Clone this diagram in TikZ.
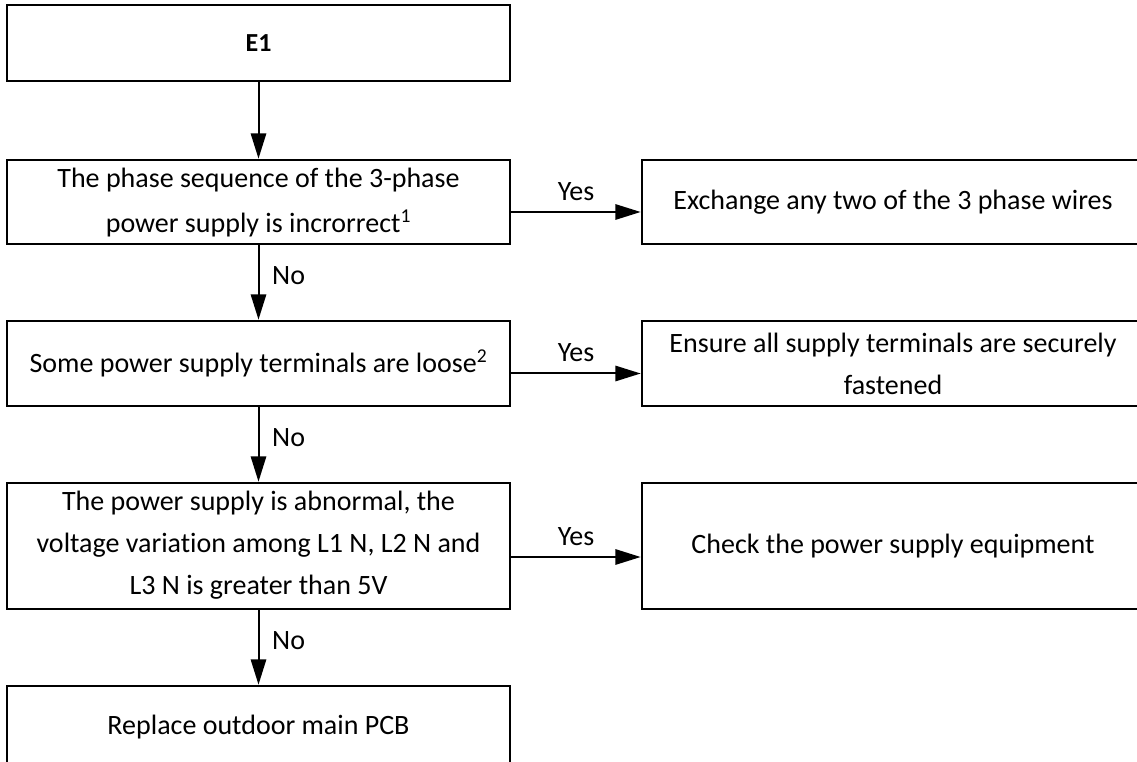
\documentclass[tikz,border=0pt]{standalone}
\usepackage{fontspec}
\setmainfont{Carlito}[Ligatures={NoCommon,NoRequired,NoContextual}]
\usetikzlibrary{arrows.meta}
\tikzset{
  box/.style={draw=black, line width=2pt, rectangle, inner sep=0pt, align=center,
    font=\fontsize{21}{31.5}\selectfont},
  flow/.style={draw=black, line width=1.5pt, -{Triangle[length=19pt,width=11.5pt]}},
  yeslbl/.style={midway, above, inner sep=0pt, yshift=8pt, font=\fontsize{21}{24}\selectfont},
  nolbl/.style={midway, right, inner sep=0pt, xshift=9.5pt, yshift=5.5pt, font=\fontsize{21}{24}\selectfont}
}
\begin{document}
\begin{tikzpicture}[x=0.75pt, y=-0.75pt]
\clip (0,0) rectangle (1137,762);
\fill[white] (0,0) rectangle (1137,762);
\node[box, minimum width=377.25pt, minimum height=57pt, font=\fontsize{19.5}{23}\selectfont\bfseries] (e1) at (258.5,43) {E1};
\node[box, minimum width=377.25pt, minimum height=63pt] (q1) at (258.5,202)
  {\raisebox{-5pt}[0pt][0pt]{\begin{tabular}{@{}c@{}}The phase sequence of the 3-phase\\[2.5pt]power supply is incrorrect\textsuperscript{1}\end{tabular}}};
\node[box, minimum width=376.5pt, minimum height=63pt] (a1) at (893,202) {Exchange any two of the 3 phase wires};
\node[box, minimum width=377.25pt, minimum height=63.75pt] (q2) at (258.5,363.5) {Some power supply terminals are loose\textsuperscript{2}};
\node[box, minimum width=376.5pt, minimum height=63.75pt] (a2) at (893,363.5) {Ensure all supply terminals are securely\\fastened};
\node[box, minimum width=377.25pt, minimum height=94.5pt] (q3) at (258.5,546) {\raisebox{-4pt}[0pt][0pt]{\begin{tabular}{@{}c@{}}The power supply is abnormal, the\\voltage variation among L1 N, L2 N and\\L3 N is greater than 5V\end{tabular}}};
\node[box, minimum width=376.5pt, minimum height=94.5pt] (a3) at (893,546) {Check the power supply equipment};
\node[box, minimum width=377.25pt, minimum height=61.5pt] (r) at (258.5,727) {Replace outdoor main PCB};

\draw[flow] (e1.south) -- (q1.north);
\draw[flow] (q1.south) -- node[nolbl] {No} (q2.north);
\draw[flow] (q2.south) -- node[nolbl] {No} (q3.north);
\draw[flow] (q3.south) -- node[nolbl] {No} (r.north);
\draw[flow] ([yshift=-7.5pt]q1.east) -- node[yeslbl] {Yes} ([yshift=-7.5pt]a1.west);
\draw[flow] ([yshift=-7.5pt]q2.east) -- node[yeslbl] {Yes} ([yshift=-7.5pt]a2.west);
\draw[flow] ([yshift=-8.25pt]q3.east) -- node[yeslbl] {Yes} ([yshift=-8.25pt]a3.west);
\end{tikzpicture}
\end{document}
